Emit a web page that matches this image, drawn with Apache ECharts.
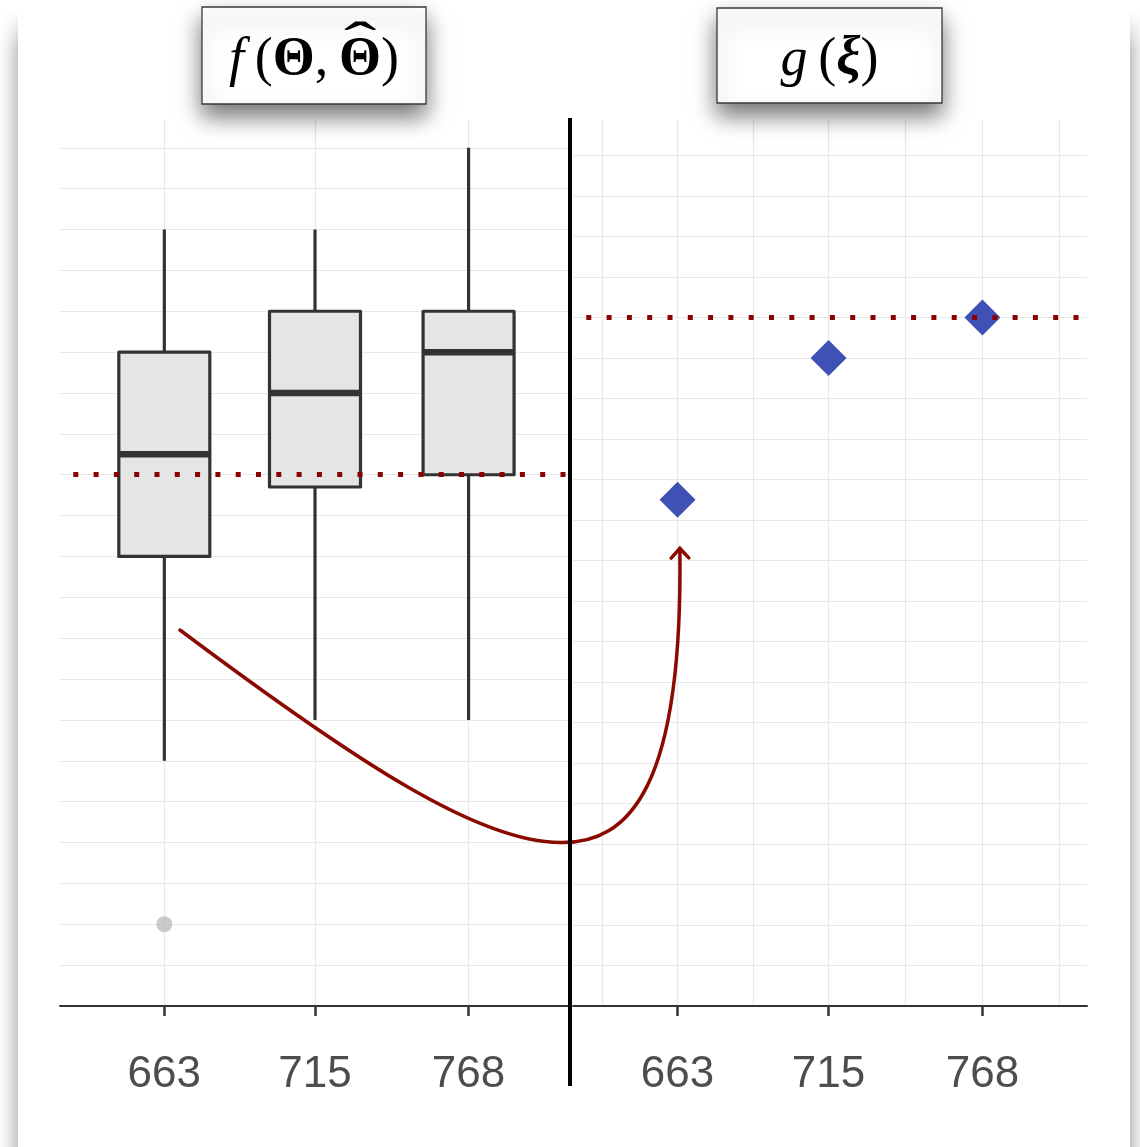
<!DOCTYPE html>
<html><head><meta charset="utf-8">
<script src="https://cdn.jsdelivr.net/npm/echarts@6/dist/echarts.min.js"></script>
<style>
html,body{margin:0;padding:0;background:#fff;width:1140px;height:1147px;overflow:hidden;}
#card{position:absolute;left:18px;top:-60px;width:1112px;height:1300px;background:#fff;box-shadow:0 0 20px rgba(0,0,0,0.45);}
#fade{position:absolute;left:0;top:0;width:1140px;height:52px;background:linear-gradient(to bottom, rgba(255,255,255,1) 0px, rgba(255,255,255,1) 12px, rgba(255,255,255,0) 50px);}
#chart{position:absolute;left:0;top:0;width:1140px;height:1147px;}
</style></head><body>
<div id="card"></div><div id="fade"></div><div id="chart"></div>
<script>
// ---- data ----
const categories = [663, 715, 768];
const boxLower  = [6, 7, 7];
const boxQ1     = [11, 12.7, 13];
const boxMedian = [13.5, 15, 16];
const boxQ3     = [16, 17, 17];
const boxUpper  = [19, 19, 21];
const outlierX  = [663];
const outlierY  = [2];
const gValues   = [12.5, 16, 17];
const fReference = 13;
const gReference = 17;
const rightGridValues = [637, 663, 689, 715, 741.5, 768, 794.5];
// annotation curve anchors (data coords): left panel part, right panel part
const curveLeft  = [[668.4, 9.2], [730.5, 5.9], [771.9, 4.0], [799.5, 4.0]];
const curveRight = [[646.6, 4.0], [664.9, 5.4], [663.8, 11.3]];

const gridColor = '#e9e9e9';
const boxData = categories.map((c, i) => [c, boxLower[i], boxQ1[i], boxMedian[i], boxQ3[i], boxUpper[i]]);

function xAxisMain(gi, max) {
  return {
    gridIndex: gi, type: 'value', min: 627, max: max,
    axisLine: {show: true, onZero: false, lineStyle: {color: '#333', width: 2}},
    axisTick: {show: true, length: 10, customValues: categories, lineStyle: {color: '#333', width: 2.5}},
    axisLabel: {show: true, customValues: categories, margin: 47, fontSize: 44,
      color: '#4d4d4d', fontFamily: 'Liberation Sans, Arial, sans-serif'},
    splitLine: {show: gi === 0, lineStyle: {color: gridColor, width: 1.2}}
  };
}

const chart = echarts.init(document.getElementById('chart'), null, {renderer: 'canvas'});
const option = {
  animation: false,
  grid: [
    {left: 60, top: 120, width: 510, height: 886},
    {left: 573, top: 120, width: 514, height: 886}
  ],
  xAxis: [
    xAxisMain(0, 803),
    xAxisMain(1, 804),
    {gridIndex: 1, type: 'value', min: 627, max: 804,
      axisLine: {show: false}, axisTick: {show: false, customValues: rightGridValues},
      axisLabel: {show: false, customValues: rightGridValues},
      splitLine: {show: true, lineStyle: {color: gridColor, width: 1.2}}}
  ],
  yAxis: [
    {gridIndex: 0, type: 'value', min: 0, max: 21.68, interval: 1,
      axisLine: {show: false}, axisTick: {show: false}, axisLabel: {show: false},
      splitLine: {show: true, showMaxLine: false, lineStyle: {color: gridColor, width: 1.2}}},
    {gridIndex: 1, type: 'value', min: 0, max: 21.88, interval: 1,
      axisLine: {show: false}, axisTick: {show: false}, axisLabel: {show: false},
      splitLine: {show: true, showMaxLine: false, lineStyle: {color: gridColor, width: 1.2}}}
  ],
  series: [
    {
      type: 'custom', xAxisIndex: 0, yAxisIndex: 0, z: 3,
      data: boxData,
      encode: {x: 0, y: [1, 2, 3, 4, 5]},
      renderItem: function (params, api) {
        const x = api.value(0);
        const pLow = api.coord([x, api.value(1)]);
        const pQ1 = api.coord([x, api.value(2)]);
        const pMed = api.coord([x, api.value(3)]);
        const pQ3 = api.coord([x, api.value(4)]);
        const pUp = api.coord([x, api.value(5)]);
        const hw = 45.5, cx = pMed[0];
        const st = {stroke: '#333333', lineWidth: 3.2};
        return {type: 'group', children: [
          {type: 'line', shape: {x1: cx, y1: pUp[1], x2: cx, y2: pQ3[1]}, style: st},
          {type: 'line', shape: {x1: cx, y1: pQ1[1], x2: cx, y2: pLow[1]}, style: st},
          {type: 'rect', shape: {x: cx - hw, y: pQ3[1], width: 2 * hw, height: pQ1[1] - pQ3[1]},
            style: {fill: '#e5e5e5', stroke: '#333333', lineWidth: 3.2, lineJoin: 'round'}},
          {type: 'line', shape: {x1: cx - hw, y1: pMed[1], x2: cx + hw, y2: pMed[1]},
            style: {stroke: '#333333', lineWidth: 6.5}}
        ]};
      }
    },
    {
      type: 'scatter', xAxisIndex: 0, yAxisIndex: 0, z: 3,
      symbol: 'circle', symbolSize: 16,
      itemStyle: {color: '#bdbdbd'},
      data: outlierX.map((x, i) => [x, outlierY[i]]),
      markLine: {
        silent: true, symbol: 'none', label: {show: false}, z: 6,
        lineStyle: {color: '#8b0000', width: 5, type: [5, 15.3], dashOffset: 7, cap: 'butt'},
        emphasis: {disabled: true},
        data: [{yAxis: fReference}]
      }
    },
    {
      type: 'scatter', xAxisIndex: 1, yAxisIndex: 1, z: 3,
      symbol: 'diamond', symbolSize: [36, 36],
      itemStyle: {color: '#3f51b5', opacity: 1},
      data: categories.map((c, i) => [c, gValues[i]]),
      markLine: {
        silent: true, symbol: 'none', label: {show: false}, z: 6,
        lineStyle: {color: '#8b0000', width: 5, type: [5, 15.3], dashOffset: 7, cap: 'butt'},
        emphasis: {disabled: true},
        data: [{yAxis: gReference}]
      }
    }
  ]
};
chart.setOption(option);

// ---- annotations ----
const toPx = (g, p) => chart.convertToPixel({gridIndex: g}, p);
const L = curveLeft.map(p => toPx(0, p));
const R = curveRight.map(p => toPx(1, p));
const tip = R[2], prev = R[1];
const ang = Math.atan2(tip[1] - prev[1], tip[0] - prev[0]);
const aLen = 13, aSpread = Math.PI / 4.2;
const arm1 = [tip[0] - aLen * Math.cos(ang - aSpread), tip[1] - aLen * Math.sin(ang - aSpread)];
const arm2 = [tip[0] - aLen * Math.cos(ang + aSpread), tip[1] - aLen * Math.sin(ang + aSpread)];
const curveStyle = {fill: null, stroke: '#8b0a00', lineWidth: 3.5, lineCap: 'round'};

// ---- title boxes (math labels laid out as text runs) ----
const FAM = '"Liberation Serif", "DejaVu Serif", serif';
const FS = 54;
const fonts = {
  i: 'italic normal ' + FS + 'px ' + FAM,
  r: 'normal normal ' + FS + 'px ' + FAM,
  b: 'normal bold ' + FS + 'px ' + FAM,
  bi: 'italic bold ' + FS + 'px ' + FAM
};
const mctx = document.createElement('canvas').getContext('2d');
function tw(font, s) { mctx.font = font; return mctx.measureText(s).width; }

function titleBox(bx, by, w, h, runs, hatIndex) {
  const widths = runs.map(r => tw(fonts[r[0]], r[1]));
  const total = widths.reduce((a, b) => a + b, 0);
  let x = w / 2 - total / 2;
  const midY = h / 2 + 5;
  const children = [
    {type: 'rect', shape: {x: 0, y: 0, width: w, height: h},
      style: {fill: '#ffffff', stroke: '#3a3a3a', lineWidth: 1.3,
        shadowBlur: 22, shadowOffsetY: 12, shadowColor: 'rgba(0,0,0,0.55)'}}
  ];
  runs.forEach((r, k) => {
    children.push({type: 'text', x: x, y: midY,
      style: {text: r[1], font: fonts[r[0]], fill: '#000', align: 'left', verticalAlign: 'middle'}});
    if (k === hatIndex) {
      children.push({type: 'text', x: x + widths[k] / 2, y: midY - 15, scaleX: 1.8,
        originX: 0, originY: 0,
        style: {text: '\u02C6', font: fonts.r, fill: '#000', align: 'center', verticalAlign: 'middle'}});
    }
    x += widths[k];
  });
  return {type: 'group', x: bx, y: by, z: 200, children: children};
}

chart.setOption({
  graphic: [
    {type: 'bezierCurve', z: 100,
      shape: {x1: L[0][0], y1: L[0][1], cpx1: L[1][0], cpy1: L[1][1], cpx2: L[2][0], cpy2: L[2][1], x2: L[3][0], y2: L[3][1]},
      style: curveStyle},
    {type: 'bezierCurve', z: 100,
      shape: {x1: L[3][0], y1: L[3][1], cpx1: R[0][0], cpy1: R[0][1], cpx2: R[1][0], cpy2: R[1][1], x2: R[2][0], y2: R[2][1]},
      style: curveStyle},
    {type: 'polyline', z: 100, shape: {points: [arm1, tip, arm2]},
      style: {fill: null, stroke: '#8b0a00', lineWidth: 3.5, lineJoin: 'miter', lineCap: 'round'}},
    {type: 'line', z: 150, shape: {x1: 570, y1: 118, x2: 570, y2: 1086},
      style: {stroke: '#000000', lineWidth: 4}},
    titleBox(202, 7, 224, 97,
      [['i', 'f'], ['r', '\u2009('], ['b', '\u0398'], ['r', ',\u2009'], ['b', '\u0398'], ['r', ')']], 4),
    titleBox(717, 8, 225, 95,
      [['i', 'g'], ['r', '\u2009('], ['bi', '\u03BE'], ['r', ')']], -1)
  ]
});
</script>
</body></html>
